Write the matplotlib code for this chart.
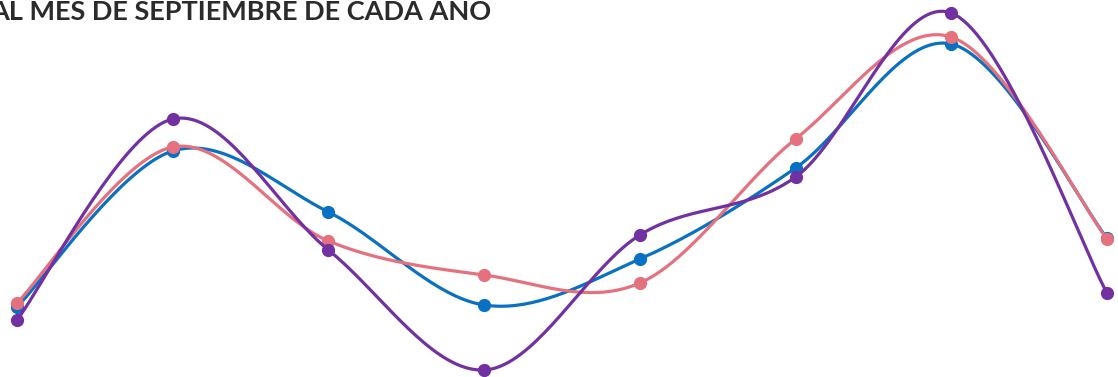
import numpy as np
import matplotlib.pyplot as plt

# Valores de cada serie (8 años)
anios = np.arange(8)
azul = [93, 249, 188, 95, 141, 232, 356, 162]
rosa = [97, 253, 159, 125, 117, 261, 363, 161]
morado = [80, 281, 150, 30, 165, 223, 387, 107]

titulo = "AL MES DE SEPTIEMBRE DE CADA AÑO"


def suavizar(x, y, n=40):
    # spline Catmull-Rom entre puntos consecutivos
    x = np.asarray(x, float)
    y = np.asarray(y, float)
    px = np.concatenate([[x[0]], x, [x[-1]]])
    py = np.concatenate([[y[0]], y, [y[-1]]])
    xs, ys = [], []
    t = np.linspace(0, 1, n)
    for i in range(1, len(px) - 2):
        for p, out in ((px, xs), (py, ys)):
            p0, p1, p2, p3 = p[i - 1], p[i], p[i + 1], p[i + 2]
            m1 = (p2 - p0) / 2
            m2 = (p3 - p1) / 2
            h00 = 2 * t**3 - 3 * t**2 + 1
            h10 = t**3 - 2 * t**2 + t
            h01 = -2 * t**3 + 3 * t**2
            h11 = t**3 - t**2
            out.extend(h00 * p1 + h10 * m1 + h01 * p2 + h11 * m2)
    return np.array(xs), np.array(ys)


fig = plt.figure(figsize=(11.18, 3.77), dpi=100)
ax = fig.add_axes([0, 0, 1, 1])

series = [(azul, '#0a70c2'), (rosa, '#e5707e'), (morado, '#7131a1')]
for vals, col in series:
    sx, sy = suavizar(anios, vals)
    ax.plot(sx, sy, color=col, lw=2.3, solid_capstyle='round')
    ax.plot(anios, vals, 'o', color=col, ms=8.5)

ax.set_xlim(-17 / 155.7, 7 + 11 / 155.7)
ax.set_ylim(23, 400)
ax.axis('off')

fig.text(-0.009, 0.947, titulo, fontsize=19.5, fontweight='bold', family='Lato',
         color='#2b2b2b', va='baseline', ha='left')

fig.savefig('out.png', dpi=100, facecolor='white')
